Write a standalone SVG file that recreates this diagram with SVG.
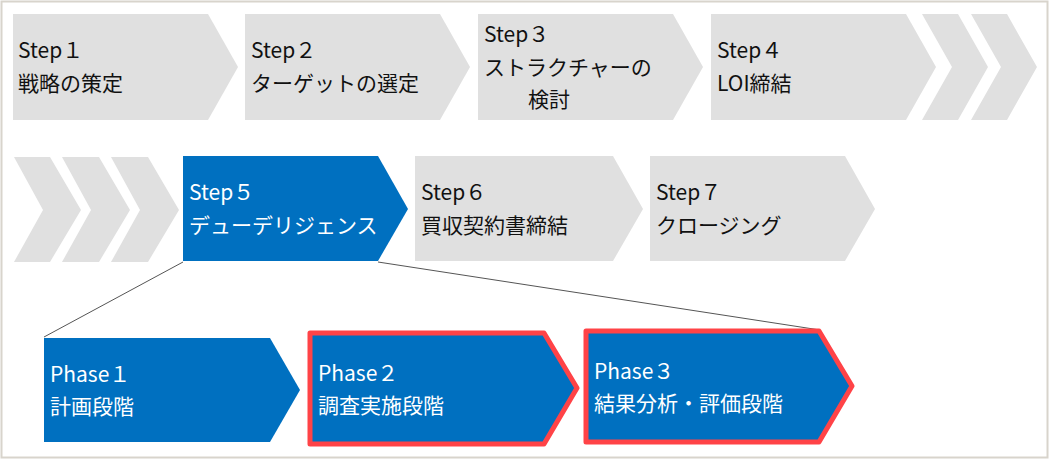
<svg xmlns="http://www.w3.org/2000/svg" width="1050" height="462" viewBox="0 0 1050 462">
<style>
.g{fill:#e0e0e0}
.b{fill:#0070c0}
.r{fill:#0070c0;stroke:#ff4347;stroke-width:5;stroke-linejoin:round}
text{font-family:"Noto Sans CJK JP","Noto Sans",sans-serif;font-size:21px;fill:#111}
.w{fill:#fff}
.ln{stroke:#555;stroke-width:1;fill:none}
</style>
<rect x="1.5" y="1.5" width="1046" height="456" fill="#fff" stroke="#d8d4cc" stroke-width="2"/>
<g id="connectors">
<path class="ln" d="M183,262 L44,337"/>
<path class="ln" d="M378,262 L820,330"/>
</g>
<g id="step1"><polygon class="g" points="13,14 208,14 238,67 208,120 13,120"/><text x="18" y="58">Step１</text><text x="18" y="91">戦略の策定</text></g>
<g id="step2"><polygon class="g" points="245,14 440,14 470,67 440,120 245,120"/><text x="251" y="58">Step２</text><text x="251" y="91">ターゲットの選定</text></g>
<g id="step3"><polygon class="g" points="478,14 673,14 703,67 673,120 478,120"/><text x="484" y="42">Step３</text><text x="484" y="75">ストラクチャーの</text><text x="528" y="107">検討</text></g>
<g id="step4"><polygon class="g" points="711,14 906,14 936,67 906,120 711,120"/><text x="717" y="58">Step４</text><text x="717" y="91">LOI締結</text></g>
<g id="chev-top"><polygon class="g" points="922,14 958,14 988,67 958,120 922,120 952,67"/><polygon class="g" points="971,14 1007,14 1037,67 1007,120 971,120 1001,67"/></g>
<g id="chev-left"><polygon class="g" points="14,157 50,157 81,210 50,262 14,262 43,210"/><polygon class="g" points="62,157 99,157 130,210 99,262 62,262 91,210"/><polygon class="g" points="111,157 148,157 179,210 148,262 111,262 140,210"/></g>
<g id="step5"><polygon class="b" points="183,156 378,156 408,209 378,261 183,261"/><text class="w" x="189" y="200">Step５</text><text class="w" x="189" y="233">デューデリジェンス</text></g>
<g id="step6"><polygon class="g" points="415,156 613,156 643,209 613,261 415,261"/><text x="421" y="200">Step６</text><text x="421" y="233">買収契約書締結</text></g>
<g id="step7"><polygon class="g" points="650,156 845,156 875,209 845,261 650,261"/><text x="656" y="200">Step７</text><text x="656" y="233">クロージング</text></g>
<g id="phase1"><polygon class="b" points="44,338 270,338 300,390 270,442 44,442"/><text class="w" x="50" y="382">Phase１</text><text class="w" x="50" y="414">計画段階</text></g>
<g id="phase2"><polygon class="r" points="310,333 544,333 577,388 544,444 310,444"/><text class="w" x="318" y="381">Phase２</text><text class="w" x="318" y="413">調査実施段階</text></g>
<g id="phase3"><polygon class="r" points="586,331 819,331 852,386 819,442 586,442"/><text class="w" x="594" y="379">Phase３</text><text class="w" x="594" y="411">結果分析・評価段階</text></g>
</svg>
